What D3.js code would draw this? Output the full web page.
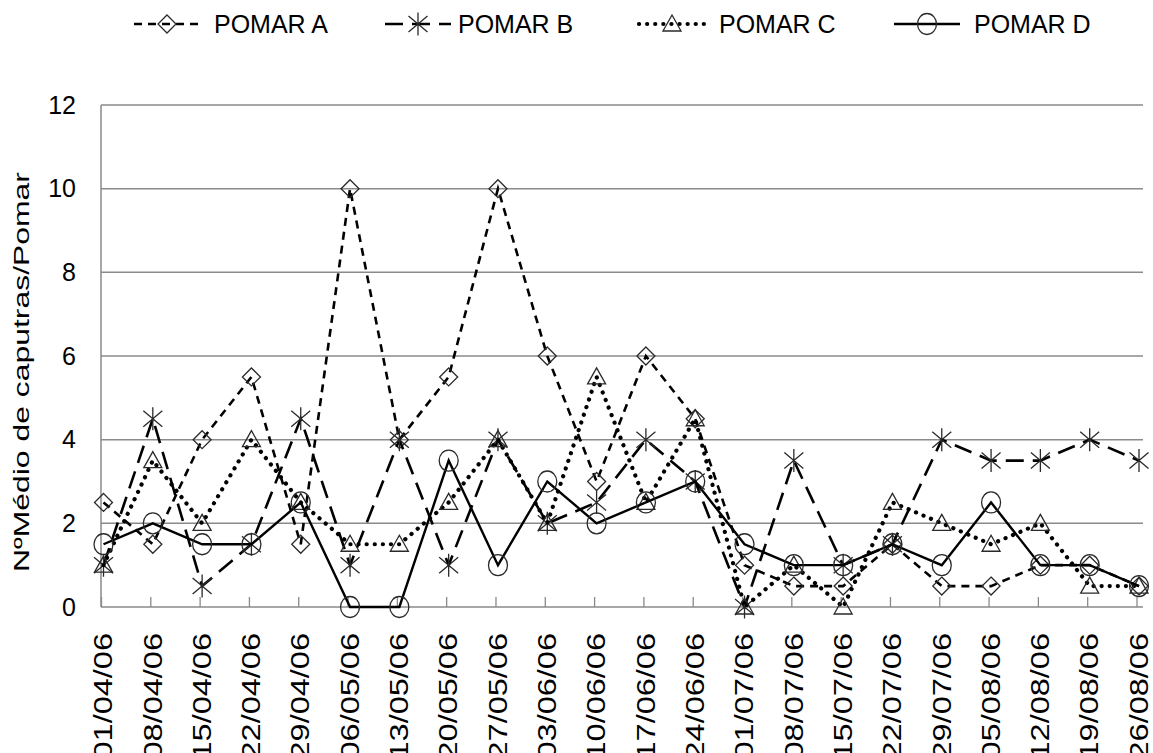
<!DOCTYPE html>
<html>
<head>
<meta charset="utf-8">
<script src="https://cdn.jsdelivr.net/npm/d3@7"></script>
<style>
  body { margin: 0; background: #fff; }
  svg { display: block; font-family: "Liberation Sans", Arial, sans-serif; }
</style>
</head>
<body>
<div class="board"></div>
<script>
// data
var dates = ['01/04/06', '08/04/06', '15/04/06', '22/04/06', '29/04/06', '06/05/06',
  '13/05/06', '20/05/06', '27/05/06', '03/06/06', '10/06/06', '17/06/06', '24/06/06',
  '01/07/06', '08/07/06', '15/07/06', '22/07/06', '29/07/06', '05/08/06', '12/08/06',
  '19/08/06', '26/08/06'];
var pomarA = [2.5, 1.5, 4, 5.5, 1.5, 10, 4, 5.5, 10, 6, 3, 6, 4.5, 1, 0.5, 0.5, 1.5, 0.5, 0.5, 1, 1, 0.5];
var pomarB = [1, 4.5, 0.5, 1.5, 4.5, 1, 4, 1, 4, 2, 2.5, 4, 3, 0, 3.5, 1, 1.5, 4, 3.5, 3.5, 4, 3.5];
var pomarC = [1, 3.5, 2, 4, 2.5, 1.5, 1.5, 2.5, 4, 2, 5.5, 2.5, 4.5, 0, 1, 0, 2.5, 2, 1.5, 2, 0.5, 0.5];
var pomarD = [1.5, 2, 1.5, 1.5, 2.5, 0, 0, 3.5, 1, 3, 2, 2.5, 3, 1.5, 1, 1, 1.5, 1, 2.5, 1, 1, 0.5];
var yTicks = [0, 2, 4, 6, 8, 10, 12];
var yTitle = 'NºMédio de caputras/Pomar';

var series = [
  {name: 'POMAR A', values: pomarA, dash: '8,6', width: 2.6, cap: 'butt', marker: 'diamond', lx: 134, tx: 214},
  {name: 'POMAR B', values: pomarB, dash: '18,9', width: 2.6, cap: 'butt', marker: 'star', lx: 385, tx: 458},
  {name: 'POMAR C', values: pomarC, dash: '0.1,8', width: 4.2, cap: 'round', marker: 'triangle', lx: 639, tx: 719},
  {name: 'POMAR D', values: pomarD, dash: null, width: 2.4, cap: 'butt', marker: 'circle', lx: 894, tx: 974}
];

var width = 1153;
var height = 753;
var plotLeft = 101, plotRight = 1143, plotTop = 105, plotBottom = 607;

var svg = d3.select('.board').append('svg')
  .attr('width', width)
  .attr('height', height);

var x = d3.scalePoint().domain(dates).range([103.5, 1139]);
var y = d3.scaleLinear().domain([0, 12]).range([plotBottom, plotTop]);

// gridlines
svg.append('g').selectAll('line').data(yTicks)
  .enter().append('line')
  .attr('x1', plotLeft).attr('x2', plotRight)
  .attr('y1', function(d) { return y(d); })
  .attr('y2', function(d) { return y(d); })
  .attr('stroke', '#8a8a8a')
  .attr('stroke-width', 1.5);

// y axis line
svg.append('line')
  .attr('x1', plotLeft).attr('x2', plotLeft)
  .attr('y1', plotTop).attr('y2', plotBottom)
  .attr('stroke', '#8a8a8a').attr('stroke-width', 1.5);

// x ticks (inside)
svg.append('g').selectAll('line').data(dates)
  .enter().append('line')
  .attr('x1', function(d) { return x(d) - 2; })
  .attr('x2', function(d) { return x(d) - 2; })
  .attr('y1', plotBottom - 10).attr('y2', plotBottom)
  .attr('stroke', '#8a8a8a').attr('stroke-width', 1.3);

// y tick labels
svg.append('g').selectAll('text').data(yTicks)
  .enter().append('text')
  .attr('x', 76)
  .attr('y', function(d) { return y(d); })
  .attr('dy', '0.35em')
  .attr('text-anchor', 'end')
  .attr('font-size', 25)
  .text(function(d) { return d; });

// x tick labels, rotated
svg.append('g').selectAll('text').data(dates)
  .enter().append('text')
  .attr('transform', function(d) {
    return 'translate(' + x(d) + ',633) rotate(-90) scale(1.3,1)';
  })
  .attr('dy', '0.35em')
  .attr('text-anchor', 'end')
  .attr('font-size', 25)
  .text(function(d) { return d; });

// y title
svg.append('text')
  .attr('transform', 'translate(29,372) rotate(-90)')
  .attr('text-anchor', 'middle')
  .attr('font-size', 22.5)
  .attr('textLength', 400)
  .attr('lengthAdjust', 'spacingAndGlyphs')
  .text(yTitle);

var drawMarker = function(g, type, cx, cy) {
  var m = g.append('g').attr('transform', 'translate(' + cx + ',' + cy + ')');
  var st = {stroke: '#2a2a2a', 'stroke-width': 1.3, fill: 'none'};
  var shape;
  if (type === 'diamond') {
    shape = m.append('path').attr('d', 'M0,-9L9,0L0,9L-9,0Z');
  } else if (type === 'triangle') {
    shape = m.append('path').attr('d', 'M0,-9L9,7L-9,7Z');
  } else if (type === 'circle') {
    shape = m.append('ellipse').attr('rx', 9.5).attr('ry', 10.5);
  } else {
    shape = m.append('path').attr('d', 'M0,-11.5V11.5M-9.5,-8L9.5,8M-9.5,8L9.5,-8');
  }
  Object.keys(st).forEach(function(k) { shape.attr(k, st[k]); });
};

var line = d3.line()
  .x(function(d, i) { return x(dates[i]); })
  .y(function(d) { return y(d); });

series.forEach(function(s) {
  var g = svg.append('g');
  g.append('path')
    .attr('d', line(s.values))
    .attr('fill', 'none')
    .attr('stroke', '#000')
    .attr('stroke-width', s.width)
    .attr('stroke-linecap', s.cap)
    .attr('stroke-dasharray', s.dash);
  s.values.forEach(function(v, i) {
    drawMarker(g, s.marker, x(dates[i]), y(v));
  });

  // legend entry
  var lg = svg.append('g');
  var ly = 24;
  lg.append('line')
    .attr('x1', s.lx).attr('x2', s.lx + 66)
    .attr('y1', ly).attr('y2', ly)
    .attr('stroke', '#000')
    .attr('stroke-width', s.width)
    .attr('stroke-linecap', s.cap)
    .attr('stroke-dasharray', s.dash);
  drawMarker(lg, s.marker, s.lx + 33, ly);
  lg.append('text')
    .attr('x', s.tx).attr('y', ly)
    .attr('dy', '0.36em')
    .attr('font-size', 25)
    .text(s.name);
});
</script>
</body>
</html>
